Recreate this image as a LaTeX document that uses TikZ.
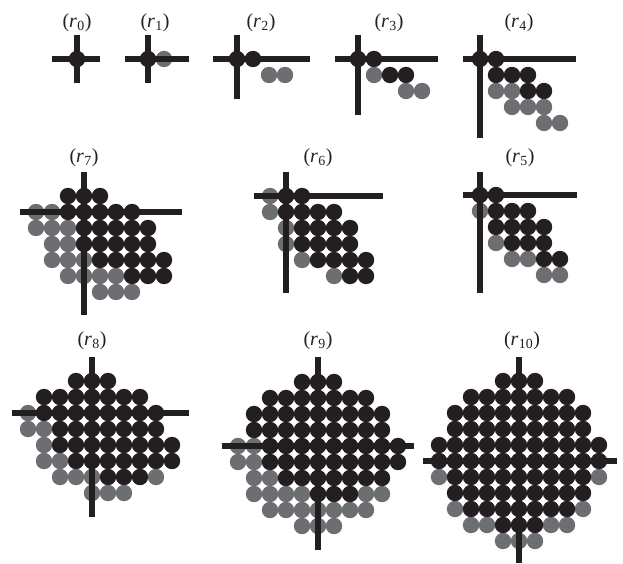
\documentclass[tikz,border=0pt]{standalone}
\usepackage{fontspec}
\newfontfamily\lf{Liberation Serif}
\definecolor{dk}{RGB}{35,31,32}
\definecolor{gr}{RGB}{109,110,113}
\tikzset{
  blk/.style={fill=dk},
  gry/.style={fill=gr},
  bar/.style={draw=dk,line width=5.5bp},
  lbl/.style={font=\lf\fontsize{20}{22}\selectfont,inner sep=0pt,text=dk}
}
\newcommand\rl[1]{(\textit{r}\kern0.3pt\textsubscript{#1})}
\newcommand\bk[2]{\foreach \c in {#2}{\fill[blk] ({16*(\c)},{16*(#1)}) circle (8.2);}}
\newcommand\gy[2]{\foreach \c in {#2}{\fill[gry] ({16*(\c)},{16*(#1)}) circle (8.2);}}
\newcommand\crossbars[4]{\draw[bar] (#1,0) -- (#2,0); \draw[bar] (0,#3) -- (0,#4);}
\begin{document}
\begin{tikzpicture}[x=1bp,y=-1bp]
\useasboundingbox (0,0) rectangle (623,564);
% labels
\node[lbl] (l0) at (77,23) {\rl{0}};
\node[lbl] (l1) at (155,23) {\rl{1}};
\node[lbl] (l2) at (261,23) {\rl{2}};
\node[lbl] (l3) at (389,23) {\rl{3}};
\node[lbl] (l4) at (519,23) {\rl{4}};
\node[lbl] (l7) at (84,158) {\rl{7}};
\node[lbl] (l6) at (318,158) {\rl{6}};
\node[lbl] (l5) at (520,158) {\rl{5}};
\node[lbl] (l8) at (92,341) {\rl{8}};
\node[lbl] (l9) at (318,341) {\rl{9}};
\node[lbl] (l10) at (522,341) {\rl{10}};
% r0
\begin{scope}[shift={(77,59)}]
\bk{0}{0}
\crossbars{-25}{23}{-24}{24}
\end{scope}
% r1
\begin{scope}[shift={(148,59)}]
\gy{0}{1}\bk{0}{0}
\crossbars{-23}{41}{-24}{24}
\end{scope}
% r2
\begin{scope}[shift={(237,59)}]
\bk{0}{0,1}\gy{1}{2,3}
\crossbars{-24}{73}{-24}{40}
\end{scope}
% r3
\begin{scope}[shift={(358,59)}]
\bk{0}{0,1}
\gy{1}{1}\bk{1}{2,3}
\gy{2}{3,4}
\crossbars{-23}{80}{-24}{56}
\end{scope}
% r4
\begin{scope}[shift={(480,59)}]
\bk{0}{0,1}
\bk{1}{1,2,3}
\gy{2}{1,2}\bk{2}{3,4}
\gy{3}{2,3,4}
\gy{4}{4,5}
\crossbars{-17}{96}{-24}{79}
\end{scope}
% r7
\begin{scope}[shift={(84,212)}]
\gy{0}{-3,-2}\gy{1}{-3,-2,-1}\gy{2}{-2,-1}\gy{3}{-2,-1,0}\gy{4}{-1,0,1,2}\gy{5}{1,2,3}
\bk{-1}{-1,0,1}
\bk{0}{-1,...,3}
\bk{1}{0,...,4}
\bk{2}{0,...,4}
\bk{3}{1,...,5}
\bk{4}{3,4,5}
\crossbars{-64}{98}{-40}{103}
\end{scope}
% r6
\begin{scope}[shift={(286,196)}]
\gy{0}{-1}\gy{1}{-1}\gy{2}{0}\gy{3}{0}\gy{4}{1}\gy{5}{3}
\bk{0}{0,1}
\bk{1}{0,...,3}
\bk{2}{1,...,4}
\bk{3}{1,...,4}
\bk{4}{2,...,5}
\bk{5}{4,5}
\crossbars{-32}{97}{-24}{97}
\end{scope}
% r5
\begin{scope}[shift={(480,195)}]
\gy{1}{0}\gy{3}{1}\gy{4}{2,3}\gy{5}{4,5}
\bk{0}{0,1}
\bk{1}{1,2,3}
\bk{2}{1,...,4}
\bk{3}{2,3,4}
\bk{4}{4,5}
\crossbars{-17}{97}{-23}{98}
\end{scope}
% r8
\begin{scope}[shift={(92,413)}]
\gy{0}{-4}\gy{1}{-4,-3}\gy{2}{-3}\gy{3}{-3,-2}\gy{4}{-2,-1,0,4}\gy{5}{0,1,2}
\bk{-2}{-1,0,1}
\bk{-1}{-3,...,3}
\bk{0}{-3,...,4}
\bk{1}{-2,...,4}
\bk{2}{-2,...,5}
\bk{3}{-1,...,5}
\bk{4}{1,2,3}
\crossbars{-80}{97}{-56}{104}
\end{scope}
% r9
\begin{scope}[shift={(318,446)}]
\gy{0}{-5,-4}\gy{1}{-5,-4}\gy{2}{-4,-3}\gy{3}{-4,-3,-2,-1,3,4}\gy{4}{-3,...,3}\gy{5}{-1,0,1}
\bk{-4}{-1,0,1}
\bk{-3}{-3,...,3}
\bk{-2}{-4,...,4}
\bk{-1}{-4,...,4}
\bk{0}{-3,...,5}
\bk{1}{-3,...,5}
\bk{2}{-2,...,4}
\bk{3}{0,1,2}
\crossbars{-96}{96}{-89}{104}
\end{scope}
% r10
\begin{scope}[shift={(519,461)}]
\gy{1}{-5,5}\gy{3}{-4,4}\gy{4}{-3,-2,2,3}\gy{5}{-1,0,1}
\bk{-5}{-1,0,1}
\bk{-4}{-3,...,3}
\bk{-3}{-4,...,4}
\bk{-2}{-4,...,4}
\bk{-1}{-5,...,5}
\bk{0}{-5,...,5}
\bk{1}{-4,...,4}
\bk{2}{-4,...,4}
\bk{3}{-3,...,3}
\bk{4}{-1,0,1}
\crossbars{-96}{98}{-104}{102}
\end{scope}
\end{tikzpicture}
\end{document}
